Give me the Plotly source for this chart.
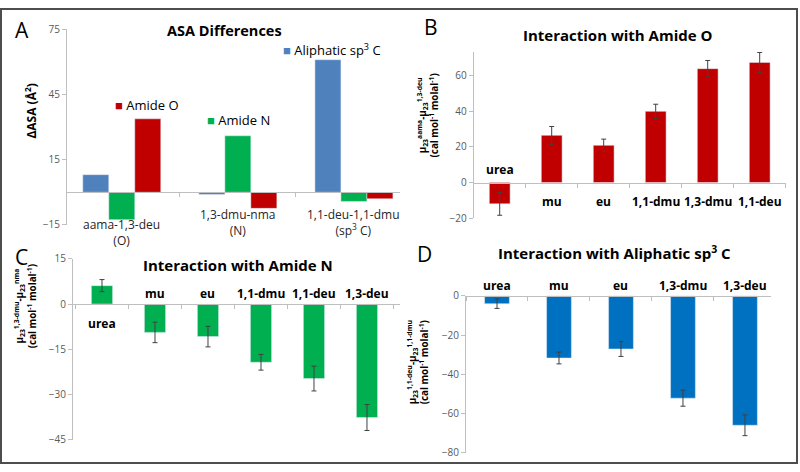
import plotly.graph_objects as go

W, H = 800, 472
FONT = "Open Sans"

# ---------------- data ----------------
A_groups = ["aama-1,3-deu<br>(O)", "1,3-dmu-nma<br>(N)", "1,1-deu-1,1-dmu<br>(sp<sup>3</sup> C)"]
A_keys = ["O", "N", "C"]
A_aliphatic = [8.1, -1.0, 61.0]
A_amideN = [-12.6, 26.0, -4.2]
A_amideO = [33.8, -7.4, -3.0]

B_cats = ["urea", "mu", "eu", "1,1-dmu", "1,3-dmu", "1,1-deu"]
B_vals = [-12.0, 26.5, 20.9, 40.0, 64.0, 67.5]
B_err = [6.4, 5.0, 3.5, 4.0, 4.6, 5.6]

C_cats = ["urea", "mu", "eu", "1,1-dmu", "1,1-deu", "1,3-deu"]
C_vals = [6.1, -9.4, -10.8, -19.3, -24.7, -37.6]
C_err = [2.0, 3.4, 3.4, 2.6, 4.1, 4.3]

D_cats = ["urea", "mu", "eu", "1,3-dmu", "1,3-deu"]
D_vals = [-4.0, -31.7, -27.1, -52.2, -66.0]
D_err = [2.4, 3.0, 3.8, 4.1, 5.3]

A_ticks = [75, 45, 15, -15]
B_ticks = [60, 40, 20, 0, -20]
C_ticks = [15, 0, -15, -30, -45]
D_ticks = [0, -20, -40, -60, -80]

# colours
C_BLUE_A = "#4f81bd"
C_GREEN = "#00b050"
C_RED = "#c00000"
C_BLUE_D = "#0070c0"
AXC = "#bfbfbf"
TICKC = "#595959"
ERRC = "#404040"


def px(x):
    return x / W


def py(y):
    return 1 - y / H


fig = go.Figure()

# ---- panel A ----
for name, vals, col in [("Aliphatic sp3 C", A_aliphatic, C_BLUE_A),
                        ("Amide N", A_amideN, C_GREEN),
                        ("Amide O", A_amideO, C_RED)]:
    fig.add_trace(go.Bar(x=A_keys, y=vals, name=name, marker_color=col,
                         xaxis="x", yaxis="y", showlegend=False))

# ---- panels B, C, D ----
for cats, vals, err, col, ax in [(B_cats, B_vals, B_err, C_RED, "2"),
                                 (C_cats, C_vals, C_err, C_GREEN, "3"),
                                 (D_cats, D_vals, D_err, C_BLUE_D, "4")]:
    fig.add_trace(go.Bar(x=cats, y=vals, marker_color=col, width=0.4,
                         error_y=dict(type="data", array=err, color=ERRC,
                                      thickness=1, width=2.5),
                         xaxis="x" + ax, yaxis="y" + ax, showlegend=False))

yax_common = dict(showgrid=False, zeroline=False, showline=True, linecolor=AXC,
                  linewidth=1, ticks="outside", tickcolor=AXC, ticklen=4,
                  tickfont=dict(family=FONT, size=10, color=TICKC), tickmode="array")
xax_common = dict(showgrid=False, zeroline=False, showline=True, linecolor=AXC,
                  linewidth=1, ticks="outside", tickcolor=AXC, ticklen=4,
                  tickson="boundaries", showticklabels=False, anchor="free",
                  type="category")

layout = dict(
    width=W, height=H, margin=dict(l=0, r=0, t=0, b=0),
    paper_bgcolor="white", plot_bgcolor="white",
    barmode="group", bargap=0.328, bargroupgap=0,
    font=dict(family=FONT, color="black"),
    xaxis=dict(xax_common, domain=[px(67), px(400)], range=[-0.472, 2.397],
               position=py(190)),
    yaxis=dict(yax_common, domain=[py(224), py(22)], range=[-15, 75],
               tickvals=A_ticks, anchor="x"),
    xaxis2=dict(xax_common, domain=[px(473.7), px(785.7)], range=[-0.5, 5.5],
                position=py(180.7)),
    yaxis2=dict(yax_common, domain=[py(217), py(45)], range=[-20, 73.6],
                tickvals=B_ticks, anchor="x2"),
    xaxis3=dict(xax_common, domain=[px(73), px(400)], range=[-0.547, 5.623],
                position=py(305.7)),
    yaxis3=dict(yax_common, domain=[py(446), py(259)], range=[-45, 15],
                tickvals=C_ticks, anchor="x3"),
    xaxis4=dict(xax_common, domain=[px(466), px(771)], range=[-0.5, 4.42],
                position=py(297.3)),
    yaxis4=dict(yax_common, domain=[py(459.3), py(297.3)], range=[-80, 0],
                tickvals=D_ticks, anchor="x4"),
)
fig.update_layout(**layout)

ann = []


def pa(text, x, y, size, bold=False, angle=0, xanchor="center", color="black"):
    t = f"<b>{text}</b>" if bold else text
    ann.append(dict(text=t, x=px(x), y=py(y), xref="paper", yref="paper",
                    showarrow=False, xanchor=xanchor, yanchor="middle",
                    textangle=angle, font=dict(family=FONT, size=size, color=color)))


# panel letters
pa("A", 22, 23, 21)
pa("B", 431, 20, 21)
pa("C", 21, 257, 21)
pa("D", 424, 254, 21)

# titles
pa("ASA Differences", 224, 23, 14.5, bold=True)
pa("Interaction with Amide O", 618, 28, 15, bold=True)
pa("Interaction with Amide N", 238, 265, 15, bold=True)
pa("Interaction with Aliphatic sp<sup>3</sup> C", 614, 253, 15, bold=True)

# y-axis titles
YT = 9.8
pa("ΔASA (Å<sup>2</sup>)", 31, 107, 12, bold=True, angle=-90)
pa("μ<sub>23</sub><sup>aama</sup>-μ<sub>23</sub><sup>1,3-deu</sup><br>(cal mol<sup>-1</sup> molal<sup>-1</sup>)",
   428, 111, YT, bold=True, angle=-90)
pa("μ<sub>23</sub><sup>1,3-dmu</sup>-μ<sub>23</sub><sup>nma</sup><br>(cal mol<sup>-1</sup> molal<sup>-1</sup>)",
   25, 308, YT, bold=True, angle=-90)
pa("μ<sub>23</sub><sup>1,1-deu</sup>-μ<sub>23</sub><sup>1,1-dmu</sup><br>(cal mol<sup>-1</sup> molal<sup>-1</sup>)",
   418, 366, YT, bold=True, angle=-90)

# panel A in-plot legend labels
pa(f'<span style="color:{C_BLUE_A}">■</span> Aliphatic sp<sup>3</sup> C', 281, 43, 13, xanchor="left")
pa(f'<span style="color:{C_RED}">■</span> Amide O', 113, 100, 13, xanchor="left")
pa(f'<span style="color:{C_GREEN}">■</span> Amide N', 205, 116, 13, xanchor="left")

# panel A category labels (low position, below the bars)
A_label_py = [231.5, 221.5, 221.5]
for key, lab, ypix in zip(A_keys, A_groups, A_label_py):
    ann.append(dict(text=lab, x=key, y=py(ypix), xref="x", yref="paper", showarrow=False,
                    xanchor="center", yanchor="middle",
                    font=dict(family=FONT, size=12, color="#262626")))

# panels B, C, D category labels: opposite side of the bar
for cats, vals, ax, up, down in [(B_cats, B_vals, "2", 12.7, -19.3),
                                 (C_cats, C_vals, "3", 10.7, -19.3),
                                 (D_cats, D_vals, "4", 10.3, -19.3)]:
    for c, v in zip(cats, vals):
        ann.append(dict(text=f"<b>{c}</b>", x=c, y=0, xref="x" + ax, yref="y" + ax,
                        showarrow=False, xanchor="center", yanchor="middle",
                        yshift=up if v < 0 else down,
                        font=dict(family=FONT, size=12, color="black")))

fig.update_layout(annotations=ann)

# outer frame
fig.add_shape(type="rect", xref="paper", yref="paper", x0=px(1), x1=px(797),
              y0=py(470), y1=py(1), line=dict(color="#4d4d4d", width=2),
              fillcolor="rgba(0,0,0,0)", layer="above")

fig.write_html("out.html", config={"displayModeBar": False},
               post_script="document.body.style.margin='0';document.body.style.padding='0';")
